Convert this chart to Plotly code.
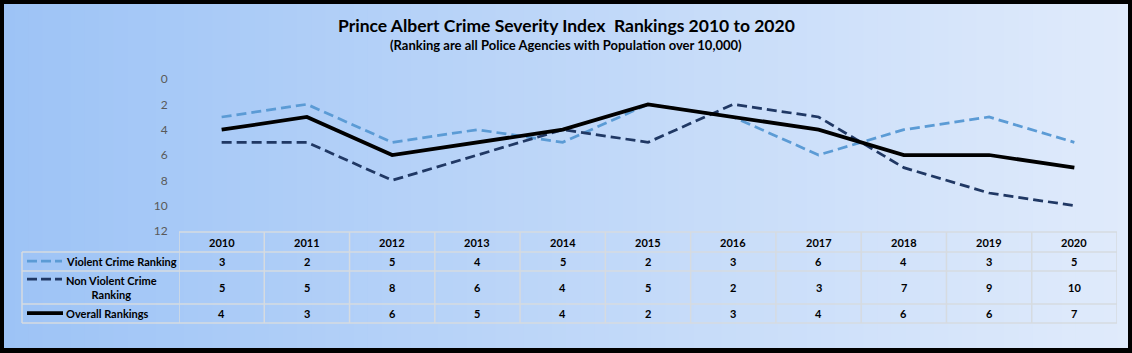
import plotly.graph_objects as go

years = ["2010", "2011", "2012", "2013", "2014", "2015", "2016", "2017", "2018", "2019", "2020"]
violent = [3, 2, 5, 4, 5, 2, 3, 6, 4, 3, 5]
non_violent = [5, 5, 8, 6, 4, 5, 2, 3, 7, 9, 10]
overall = [4, 3, 6, 5, 4, 2, 3, 4, 6, 6, 7]
y_ticks = [0, 2, 4, 6, 8, 10, 12]

W, H = 1132, 353
FONT = "Lato"
C_V = "#5b9bd5"
C_NV = "#203864"
C_O = "#000000"
GRID = "#d6dbe0"

def px(x):
    return x / W

def py(y):
    return 1 - y / H

xs = list(range(len(years)))
fig = go.Figure()
fig.add_trace(go.Scatter(x=xs, y=violent, mode="lines", name="Violent Crime Ranking",
                         line=dict(color=C_V, width=2.75, dash="10px,5px")))
fig.add_trace(go.Scatter(x=xs, y=non_violent, mode="lines", name="Non Violent Crime Ranking",
                         line=dict(color=C_NV, width=2.75, dash="10px,5px")))
fig.add_trace(go.Scatter(x=xs, y=overall, mode="lines", name="Overall Rankings",
                         line=dict(color=C_O, width=3.75)))

shapes = []
# gradient background
N = 80
c0 = (157, 195, 246)
c1 = (224, 235, 251)
for i in range(N):
    t = i / (N - 1)
    col = tuple(round(c0[k] + (c1[k] - c0[k]) * t) for k in range(3))
    shapes.append(dict(type="rect", xref="paper", yref="paper", x0=i / N, x1=(i + 1) / N + 0.002,
                       y0=0, y1=1, fillcolor="rgb(%d,%d,%d)" % col, line=dict(width=0), layer="below"))

# table geometry (pixels)
t_top, h_bot, r1_bot, r2_bot, r3_bot = 232, 252, 271, 304, 323
leg_left = 22
row_centers = [261.5, 287.5, 313.5]

n = len(years)
# horizontal lines
shapes.append(dict(type="line", xref="x", yref="paper", x0=-0.5, x1=n - 0.5, y0=py(t_top), y1=py(t_top),
                   line=dict(color=GRID, width=1.5)))
for yy in [h_bot, r1_bot, r2_bot, r3_bot]:
    shapes.append(dict(type="line", xref="paper", yref="paper", x0=px(leg_left), x1=px(1117), y0=py(yy), y1=py(yy),
                       line=dict(color=GRID, width=1.5)))
# vertical lines
for i in range(n + 1):
    shapes.append(dict(type="line", xref="x", yref="paper", x0=i - 0.5, x1=i - 0.5, y0=py(t_top), y1=py(r3_bot),
                       line=dict(color=GRID, width=1.5)))
shapes.append(dict(type="line", xref="paper", yref="paper", x0=px(leg_left), x1=px(leg_left), y0=py(h_bot), y1=py(r3_bot),
                   line=dict(color=GRID, width=1.5)))

# legend keys
shapes.append(dict(type="line", xref="paper", yref="paper", x0=px(27), x1=px(62), y0=py(261), y1=py(261),
                   line=dict(color=C_V, width=2.75, dash="10px,4px")))
shapes.append(dict(type="line", xref="paper", yref="paper", x0=px(27), x1=px(62), y0=py(279), y1=py(279),
                   line=dict(color=C_NV, width=2.75, dash="10px,4px")))
shapes.append(dict(type="line", xref="paper", yref="paper", x0=px(27), x1=px(63), y0=py(313), y1=py(313),
                   line=dict(color=C_O, width=3.75)))

# black frame
for (x0, x1, y0, y1) in [(0, W, 0, 4), (0, W, 348, H), (0, 4, 0, H), (1128, W, 0, H)]:
    shapes.append(dict(type="rect", xref="paper", yref="paper", x0=px(x0), x1=px(x1), y0=py(y1), y1=py(y0),
                       fillcolor="#000000", line=dict(width=0)))

ann = []
ann.append(dict(text="<b>Prince Albert Crime Severity Index  Rankings 2010 to 2020</b>", xref="paper", yref="paper",
                x=0.5, y=py(25), showarrow=False, font=dict(family=FONT, size=17.5, color="#000000"),
                xanchor="center", yanchor="middle"))
ann.append(dict(text="<b>(Ranking are all Police Agencies with Population over 10,000)</b>", xref="paper", yref="paper",
                x=0.5, y=py(45), showarrow=False, font=dict(family=FONT, size=13, color="#000000"),
                xanchor="center", yanchor="middle"))

cell_font = dict(family=FONT, size=11, color="#000000")
for i, yr in enumerate(years):
    ann.append(dict(text="<b>%s</b>" % yr, xref="x", yref="paper", x=i, y=py(242), showarrow=False,
                    font=cell_font, xanchor="center", yanchor="middle"))
for r, series in enumerate([violent, non_violent, overall]):
    for i, v in enumerate(series):
        ann.append(dict(text="<b>%d</b>" % v, xref="x", yref="paper", x=i, y=py(row_centers[r]), showarrow=False,
                        font=cell_font, xanchor="center", yanchor="middle"))

ann.append(dict(text="<b>Violent Crime Ranking</b>", xref="paper", yref="paper", x=px(64), y=py(261.5),
                showarrow=False, font=cell_font, xanchor="left", yanchor="middle"))
ann.append(dict(text="<b>Non Violent Crime<br>Ranking</b>", xref="paper", yref="paper", x=px(111), y=py(287.5),
                showarrow=False, font=cell_font, xanchor="center", yanchor="middle", align="center"))
ann.append(dict(text="<b>Overall Rankings</b>", xref="paper", yref="paper", x=px(64), y=py(313.5),
                showarrow=False, font=cell_font, xanchor="left", yanchor="middle"))

fig.update_layout(
    width=W, height=H, margin=dict(l=0, r=0, t=0, b=0),
    paper_bgcolor="#c0d8f6", plot_bgcolor="rgba(0,0,0,0)",
    showlegend=False, shapes=shapes, annotations=ann,
    xaxis=dict(domain=[px(179), px(1117)], range=[-0.5, n - 0.5], showticklabels=False, showgrid=False,
               zeroline=False, showline=False, ticks="", automargin=False, fixedrange=True),
    yaxis=dict(domain=[py(231), py(79)], range=[12, 0], tickvals=y_ticks, showgrid=False, zeroline=False,
               showline=False, ticks="outside", ticklen=8, tickcolor="rgba(0,0,0,0)",
               tickfont=dict(family=FONT, size=12, color="#595959"), automargin=False, fixedrange=True),
)

fig.write_html("out.html")
